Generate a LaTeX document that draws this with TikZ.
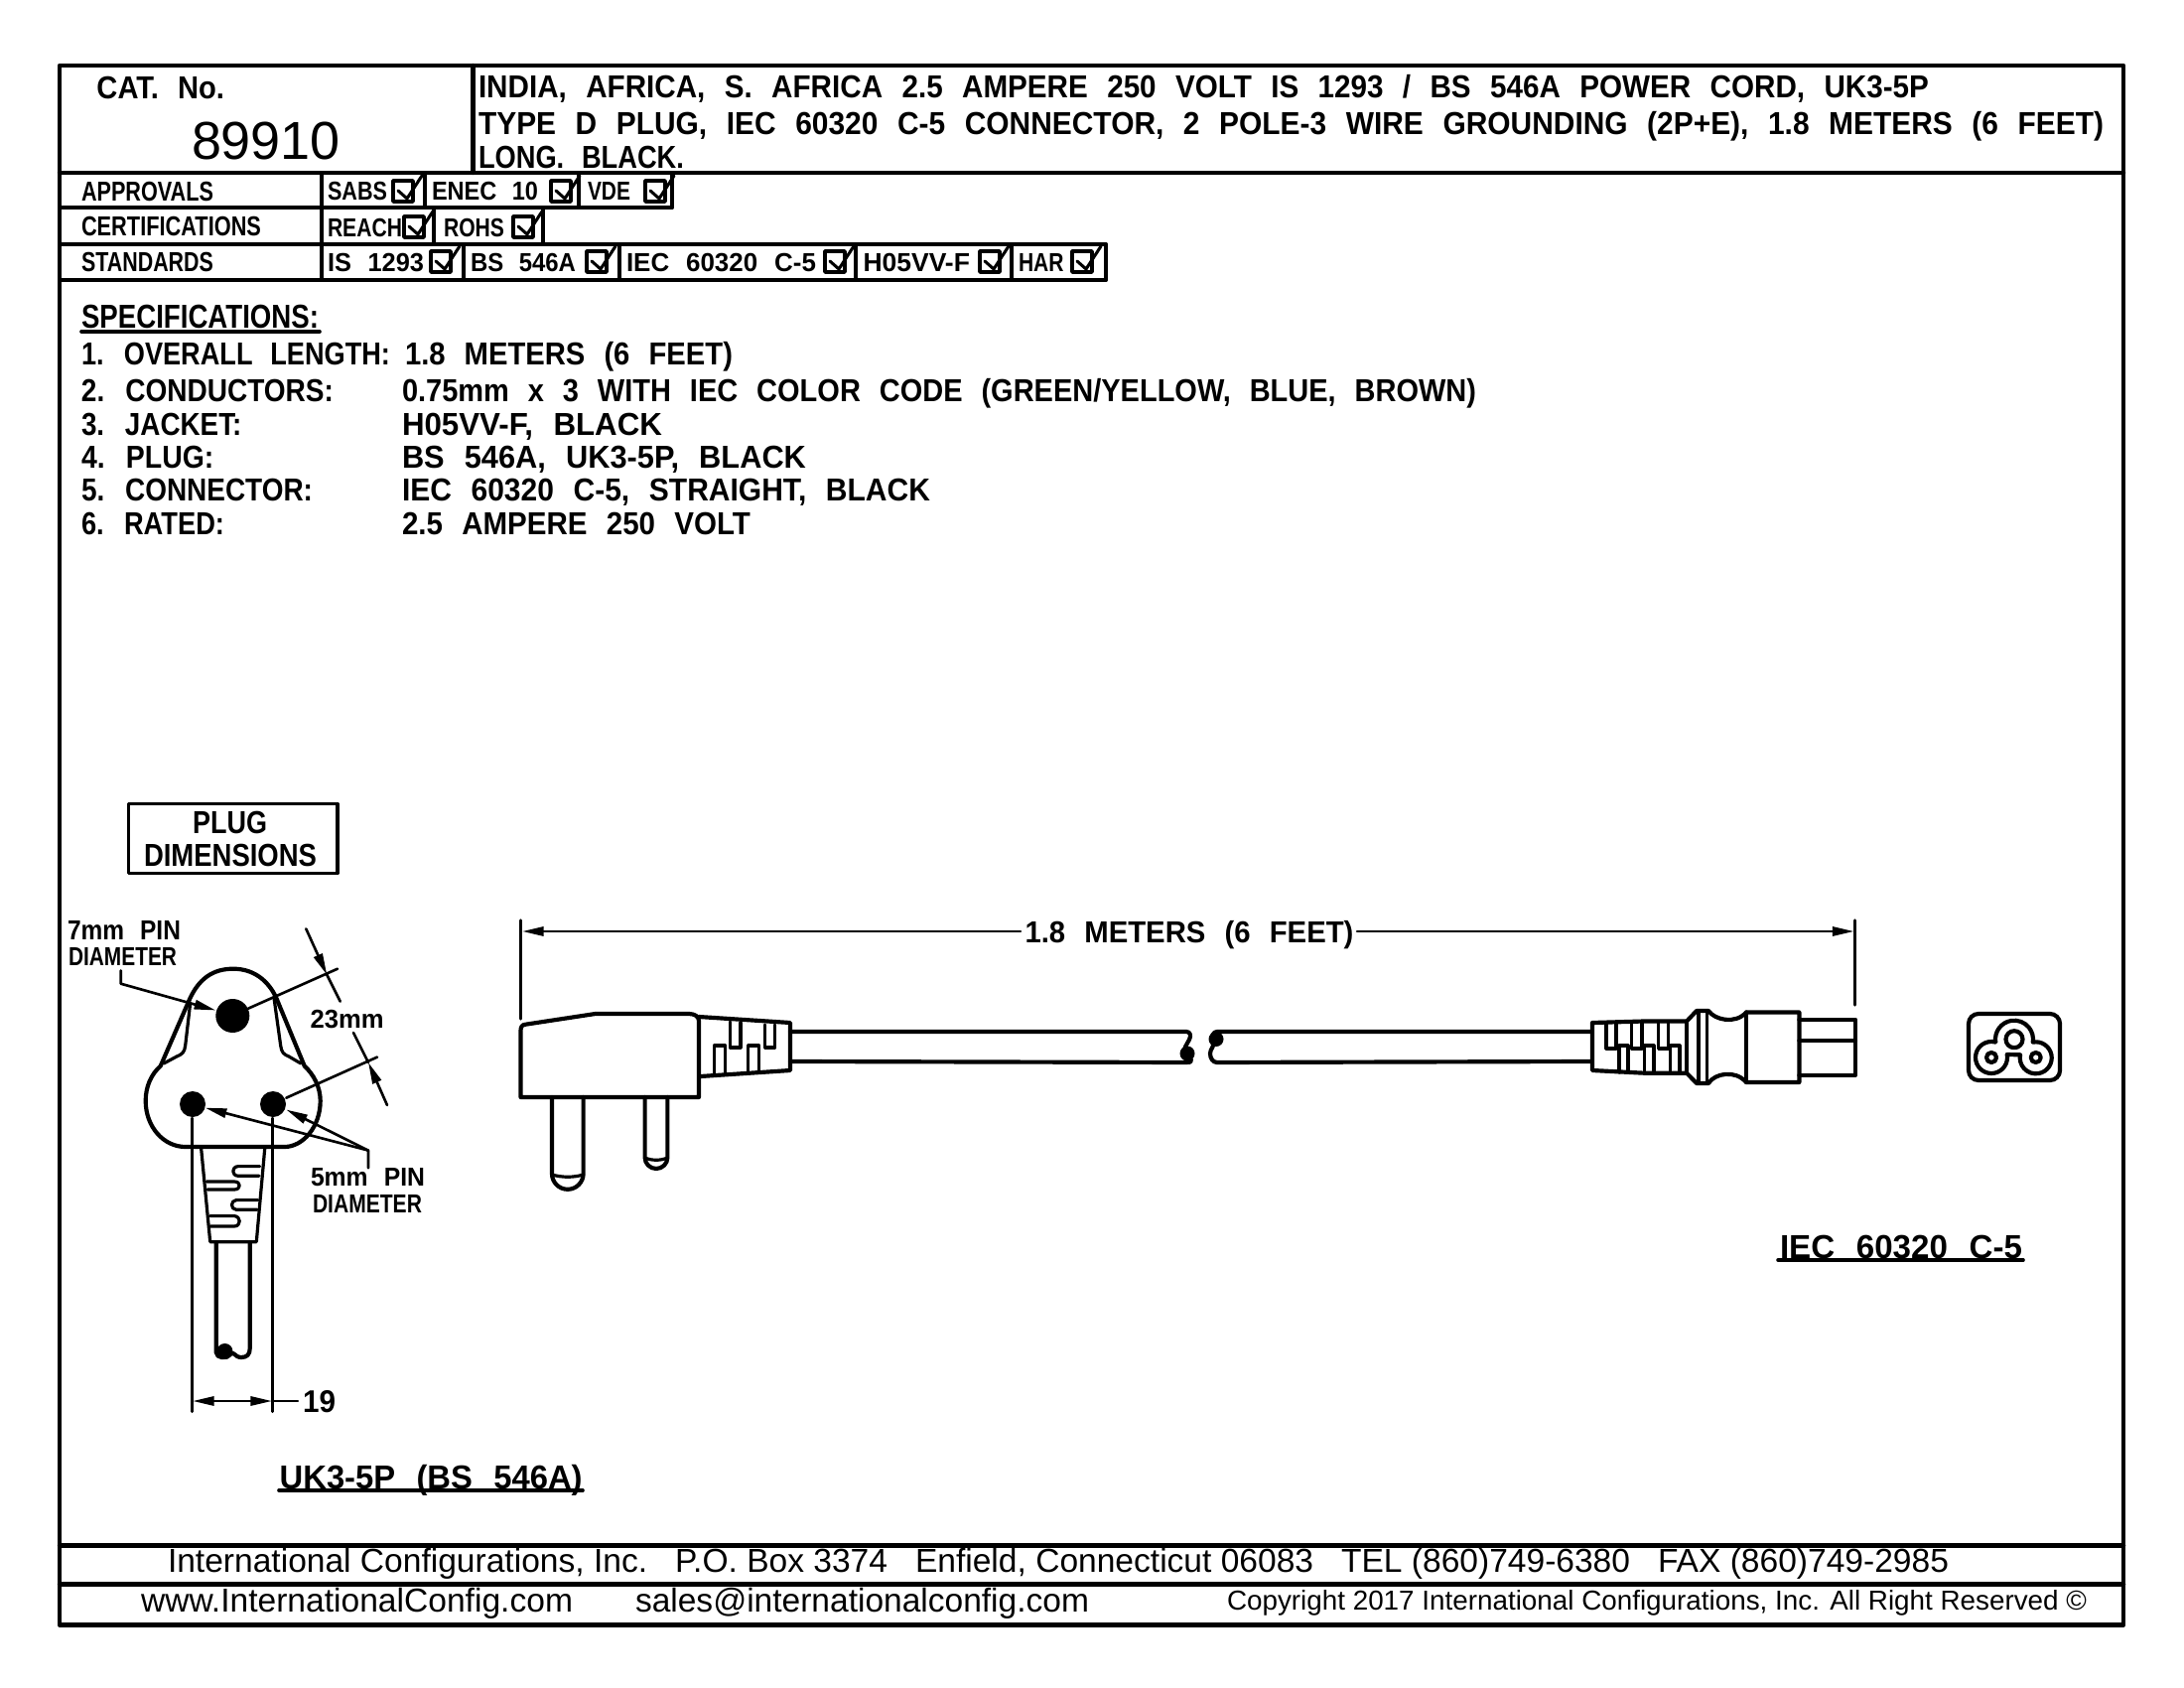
\documentclass[tikz,border=0pt]{standalone}
\usepackage{fontspec}
\usepackage{graphicx}
\usetikzlibrary{arrows.meta}
\newfontfamily\cadfont[UprightFont={* Bold},WordSpace=2.35]{Liberation Sans}
\newfontfamily\footfont{Liberation Sans}
\newlength\cadw
\newlength\cads
\newcommand\fitbox[4]{\setlength\cads{#2pt}\setlength\cads{0.5233\cads}\setlength\cadw{#3pt}\setlength\cadw{0.36\cadw}\resizebox{\cadw}{\height}{#1\fontsize{\cads}{\cads}\selectfont #4}}
\newcommand\cadt[6]{\node[txt,yshift=-0.36pt] (#1) at (#2,#3) {\fitbox{\cadfont}{#4}{#5}{#6}};}
\newcommand\foott[6]{\node[txt] (#1) at (#2,#3) {\fitbox{\footfont}{#4}{#5}{#6}};}
\newcommand\chk[2]{\draw[rowline] (#1,#2) rectangle ++(20,21); \draw[chkline] (#1+5,#2+10) -- (#1+14,#2+18) -- (#1+29,#2-5);}
\tikzset{
  x=0.36pt,y=-0.36pt,
  txt/.style={anchor=base west,inner sep=0pt,outer sep=0pt},
  frameline/.style={line width=1.6pt,line cap=round,line join=round},
  rowline/.style={line width=1.3pt,line cap=round,line join=round},
  chkline/.style={line width=1.1pt,line cap=round,line join=round},
  body/.style={line width=1.5pt,line cap=round,line join=round},
  fine/.style={line width=1.15pt,line cap=round,line join=round},
  dimline/.style={line width=0.95pt,line cap=round,line join=round},
  tipd/.style={-{Triangle[length=7.8pt,width=3.3pt]}},
  tipb/.style={{Triangle[length=7.8pt,width=3.3pt]}-{Triangle[length=7.8pt,width=3.3pt]}},
  uline/.style={line width=1.3pt,line cap=round},
}
\begin{document}
\begin{tikzpicture}
\useasboundingbox (0,0) rectangle (2200,1700);
\fill[white] (0,0) rectangle (2200,1700);
% frame
\draw[frameline] (60,66) rectangle (2139,1636.5);
\draw[frameline] (60,174) -- (2139,174);
\draw[frameline] (476.5,66) -- (476.5,174);
\draw[frameline] (60,1556.5) -- (2139,1556.5);
\draw[frameline] (60,1595.5) -- (2139,1595.5);
% table rows
\draw[rowline] (60,209) -- (677,209);
\draw[rowline] (60,246) -- (1114,246);
\draw[rowline] (60,282) -- (1114,282);
\draw[rowline] (324,174) -- (324,282);
\foreach \xx in {428,583,677} {\draw[rowline] (\xx,174) -- (\xx,209);}
\foreach \xx in {437,547} {\draw[rowline] (\xx,209) -- (\xx,246);}
\foreach \xx in {467,624,862,1019,1114} {\draw[rowline] (\xx,246) -- (\xx,282);}
\chk{396}{182}\chk{555}{182}\chk{650}{182}
\chk{407}{218}\chk{517}{218}
\chk{434}{253}\chk{591}{253}\chk{831}{253}\chk{987}{253}\chk{1080}{253}
% heading
\cadt{cat}{97.5}{99}{22}{128.5}{CAT. No.}
\foott{catno}{193}{161}{37}{150}{89910}
\cadt{t1}{482}{98}{22}{1461}{INDIA, AFRICA, S. AFRICA 2.5 AMPERE 250 VOLT IS 1293 / BS 546A POWER CORD, UK3-5P}
\cadt{t2}{482}{135}{22}{1637}{TYPE D PLUG, IEC 60320 C-5 CONNECTOR, 2 POLE-3 WIRE GROUNDING (2P+E), 1.8 METERS (6 FEET)}
\cadt{t3}{482}{169}{22}{207}{LONG. BLACK.}
% rows text
\cadt{r1}{82}{202}{19}{133}{APPROVALS}
\cadt{r2}{82}{237}{19}{181}{CERTIFICATIONS}
\cadt{r3}{82}{273}{19}{133}{STANDARDS}
\cadt{a1}{330}{201}{18}{60}{SABS}
\cadt{a2}{435}{201}{18}{107}{ENEC 10}
\cadt{a3}{592}{201}{18}{43}{VDE}
\cadt{c1}{330}{238}{18}{75}{REACH}
\cadt{c2}{447}{238}{18}{61}{ROHS}
\cadt{s1}{330}{273}{18}{97}{IS 1293}
\cadt{s2}{474}{273}{18}{106}{BS 546A}
\cadt{s3}{631}{273}{18}{191}{IEC 60320 C-5}
\cadt{s4}{869.5}{273}{18}{107.5}{H05VV-F}
\cadt{s5}{1026}{273}{18}{45.6}{HAR}
% specifications
\cadt{sp0}{82}{330}{23}{239}{SPECIFICATIONS:}
\draw[uline] (82,334) -- (322,334);
\cadt{sp1}{82}{367}{22}{311}{1. OVERALL LENGTH:}
\cadt{sv1}{408}{367}{22}{330}{1.8 METERS (6 FEET)}
\cadt{sp2}{82}{404}{22}{254}{2. CONDUCTORS:}
\cadt{sv2}{405}{404}{22}{1082}{0.75mm x 3 WITH IEC COLOR CODE (GREEN/YELLOW, BLUE, BROWN)}
\cadt{sp3}{82}{438}{22}{161.5}{3. JACKET:}
\cadt{sv3}{405}{438}{22}{262}{H05VV-F, BLACK}
\cadt{sp4}{82}{471}{22}{133.4}{4. PLUG:}
\cadt{sv4}{405}{471}{22}{407}{BS 546A, UK3-5P, BLACK}
\cadt{sp5}{82}{504}{22}{233}{5. CONNECTOR:}
\cadt{sv5}{405}{504}{22}{532}{IEC 60320 C-5, STRAIGHT, BLACK}
\cadt{sp6}{82}{538}{22}{144}{6. RATED:}
\cadt{sv6}{405}{538}{22}{351}{2.5 AMPERE 250 VOLT}
% plug dimensions box
\draw[rowline] (129.5,809.5) rectangle (340,879.5);
\cadt{pd1}{194}{839}{22}{75}{PLUG}
\cadt{pd2}{145}{872}{22}{174}{DIMENSIONS}
% plug face
\draw[body] (161.7,1073.6) -- (190,1008.6) .. controls (200,985) and (215,975.7) .. (235,975.7) .. controls (255,975.7) and (270,987) .. (278.3,1005) -- (306.7,1073.6) .. controls (316,1082) and (322.7,1095) .. (322.7,1108.6) .. controls (322.7,1135) and (305,1155) .. (286.7,1155) -- (186.7,1155) .. controls (165,1155) and (146.7,1135) .. (146.7,1108.6) .. controls (146.7,1095) and (152,1082) .. (161.7,1073.6) -- cycle;
\draw[fine] (191.7,1010) -- (186.7,1053) .. controls (186,1060) and (183,1062) .. (178,1064) -- (165,1071);
\draw[fine] (276,1005) -- (282.7,1053) .. controls (283.5,1060) and (286,1062) .. (291,1064) -- (303,1071);
\fill (234.3,1023) circle[radius=17];
\fill (194,1112) circle[radius=13];
\fill (275,1112) circle[radius=13];
% plug face strain relief
\draw[fine] (202.7,1157) -- (211.7,1250.7) -- (258.3,1250.7) -- (266.7,1157);
\draw[fine] (261.7,1174.6) -- (240,1174.6) .. controls (233,1175) and (233,1184) .. (240,1184.3) -- (261,1184.3);
\draw[fine] (208.3,1190) -- (236,1190) .. controls (243,1190) and (243,1198) .. (236,1198) -- (209,1198);
\draw[fine] (260,1208.6) -- (238,1208.6) .. controls (232,1209) and (232,1218) .. (238,1218.3) -- (259,1218.3);
\draw[fine] (211.7,1224.6) -- (236,1224.6) .. controls (243,1225) and (243,1235) .. (236,1235) -- (212,1235);
% plug face cord
\draw[body] (217.7,1251) -- (217.7,1362) .. controls (218,1368) and (228,1369) .. (232,1364) .. controls (236,1360) and (236,1367) .. (243,1367) .. controls (249,1367) and (251.7,1364) .. (251.7,1358) -- (251.7,1251);
\fill (226.5,1361) circle[radius=8];
% plug face dimension lines
\coordinate (w1a) at (193.3,1126);
\coordinate (w1b) at (193.3,1421.7);
\coordinate (w2a) at (274.3,1126);
\coordinate (w2b) at (274.3,1421.7);
\draw[dimline] (w1a) -- (w1b);
\draw[dimline] (w2a) -- (w2b);
\coordinate (w3) at (194,1411);
\coordinate (w4) at (274,1411);
\coordinate (w5) at (300,1411);
\draw[dimline,tipb] (w3) -- (w4);
\draw[dimline] (w4) -- (w5);
\cadt{d19}{305}{1421.7}{21.7}{33}{19}
\coordinate (e1a) at (250,1015.7);
\coordinate (e1b) at (340,975.7);
\coordinate (e2a) at (288.3,1105.7);
\coordinate (e2b) at (380,1064.6);
\draw[dimline] (e1a) -- (e1b);
\draw[dimline] (e2a) -- (e2b);
\coordinate (g1) at (308.3,935.4);
\coordinate (g2) at (329.3,981.8);
\coordinate (g3) at (342.7,1008.6);
\coordinate (g4) at (390,1113);
\coordinate (g5) at (371,1070);
\coordinate (g6) at (356,1040);
\draw[dimline,tipd] (g1) -- (g2);
\draw[dimline] (g2) -- (g3);
\draw[dimline,tipd] (g4) -- (g5);
\draw[dimline] (g5) -- (g6);
\cadt{d23}{312.7}{1034}{18}{74}{23mm}
\cadt{pin7a}{68}{945}{19}{114}{7mm PIN}
\cadt{pin7b}{69}{971}{18}{109}{DIAMETER}
\coordinate (l1) at (121.7,977.5);
\coordinate (l2) at (121.7,990.7);
\coordinate (l3) at (217.3,1017.5);
\draw[dimline,tipd] (l1) -- (l2) -- (l3);
\cadt{pin5a}{313}{1193.6}{18}{115}{5mm PIN}
\cadt{pin5b}{315}{1220}{18}{110}{DIAMETER}
\coordinate (m1) at (371,1176.4);
\coordinate (m2) at (371,1158.6);
\coordinate (m3) at (206.7,1115.7);
\coordinate (m4) at (288.3,1117.5);
\draw[dimline,tipd] (m1) -- (m2) -- (m3);
\draw[dimline,tipd] (m2) -- (m4);
\cadt{lab1}{281.7}{1498}{23}{305}{UK3-5P (BS 546A)}
\draw[uline] (281,1501) -- (587,1501);
% length dimension
\coordinate (la) at (524.5,927);
\coordinate (lb) at (524.5,1026);
\coordinate (ra) at (1868.6,927);
\coordinate (rb) at (1868.6,1012);
\draw[fine] (la) -- (lb);
\draw[fine] (ra) -- (rb);
\cadt{len}{1032.5}{948}{21}{331}{1.8 METERS (6 FEET)}
\coordinate (ll) at (1028,938);
\coordinate (lt) at (526,938);
\coordinate (rl) at (1367,938);
\coordinate (rt) at (1867.5,938);
\draw[dimline,tipd] (ll) -- (lt);
\draw[dimline,tipd] (rl) -- (rt);
% side plug
\draw[body] (524.5,1105) -- (524.5,1038) .. controls (524.5,1034) and (526,1032) .. (529.4,1031.7) -- (599.7,1021) -- (694,1021) .. controls (700,1021) and (704,1024) .. (704,1028) -- (704,1105) -- cycle;
\draw[body] (704,1024) -- (796,1030) -- (796,1078) -- (706,1084);
\draw[fine] (735.4,1029) -- (735.4,1055) -- (746,1055) -- (746,1030);
\draw[fine] (770.8,1032) -- (770.8,1055) -- (780.5,1055) -- (780.5,1032);
\draw[fine] (719.4,1083) -- (719.4,1053) -- (730.5,1053) -- (730.5,1082);
\draw[fine] (753.8,1080) -- (753.8,1053) -- (764.5,1053) -- (764.5,1079);
\draw[body] (556,1105) -- (556,1182) arc[start angle=180,end angle=0,radius=15.8] -- (587.6,1105);
\draw[fine] (556,1183) .. controls (566,1186) and (578,1186) .. (587.6,1183);
\draw[body] (649.6,1105) -- (649.6,1165.6) arc[start angle=180,end angle=0,radius=11.4] -- (672.4,1105);
\draw[fine] (649.6,1166) .. controls (656,1169) and (666,1169) .. (672.4,1166);
% cord left piece with break
\draw[body] (796,1039) -- (1195,1039) .. controls (1199,1039) and (1200,1043) .. (1198,1047) .. controls (1196,1051) and (1192,1056) .. (1192,1062) .. controls (1192,1066) and (1200,1064) .. (1200,1068) .. controls (1200,1070) and (1198,1070) .. (1195,1070) -- (796,1069);
\fill (1196,1061) circle[radius=7.5];
% cord right piece with break
\draw[body] (1603,1039) -- (1226,1039) .. controls (1222,1039) and (1220,1044) .. (1222,1048) .. controls (1224,1054) and (1219,1056) .. (1219,1061) .. controls (1219,1066) and (1222,1070) .. (1226,1070) -- (1603,1069);
\fill (1225,1046.5) circle[radius=7.5];
% connector
\draw[body] (1604,1030) -- (1656,1028.5) -- (1699,1028.5) -- (1709,1018) -- (1721,1018) .. controls (1727,1027) and (1748,1032) .. (1759,1019.5) -- (1812.4,1019.5) -- (1812.4,1090) -- (1759,1090) .. controls (1748,1077) and (1727,1081) .. (1721,1091) -- (1709,1091) -- (1699,1080.7) -- (1656,1080.7) -- (1604,1078) -- cycle;
\draw[body] (1699,1028.5) -- (1699,1080.7);
\draw[fine] (1711,1018) -- (1711,1091);
\draw[fine] (1719.5,1018) -- (1719.5,1091);
\draw[body] (1759,1019.5) -- (1759,1090);
\draw[body] (1812.4,1026.7) -- (1869,1026.7) -- (1869,1082.7) -- (1812.4,1082.7);
\draw[body] (1812.4,1048) -- (1869,1048);
\foreach \xa/\xb in {1618/1628,1643.7/1654,1670.6/1680.6} {\draw[fine] (\xa,1030) -- (\xa,1056) -- (\xb,1056) -- (\xb,1030);}
\foreach \xa/\xb in {1631/1640,1656.4/1666,1682.6/1692} {\draw[fine] (\xa,1080) -- (\xa,1053) -- (\xb,1053) -- (\xb,1080);}
% socket symbol
\draw[body,rounded corners=3.6pt] (1983,1021) rectangle (2075,1088);
\draw[body] (2010.2,1049.6) arc[start angle=171.2,end angle=368.8,radius=19] arc[start angle=259.3,end angle=550.8,radius=16] -- (2021.7,1062) arc[start angle=-10.8,end angle=285.3,radius=16] -- cycle;
\draw[body] (2029,1046.7) circle[radius=8.5];
\draw[body] (2006,1065) circle[radius=5];
\draw[body] (2050.7,1065) circle[radius=5];
\cadt{lab2}{1793}{1266}{23}{244}{IEC 60320 C-5}
\draw[uline] (1791,1269) -- (2038,1269);
% footer
\foott{f1}{169}{1583.5}{23}{1794}{International Configurations, Inc.\ \ \ P.O. Box 3374\ \ \ Enfield, Connecticut 06083\ \ \ TEL (860)749-6380\ \ \ FAX (860)749-2985}
\foott{f2}{142}{1623}{23}{435}{www.InternationalConfig.com}
\foott{f3}{640}{1623}{23}{457}{sales@internationalconfig.com}
\foott{f4}{1236}{1621}{19}{866}{Copyright 2017 International Configurations, Inc. All Right Reserved ©}
\end{tikzpicture}
\end{document}
